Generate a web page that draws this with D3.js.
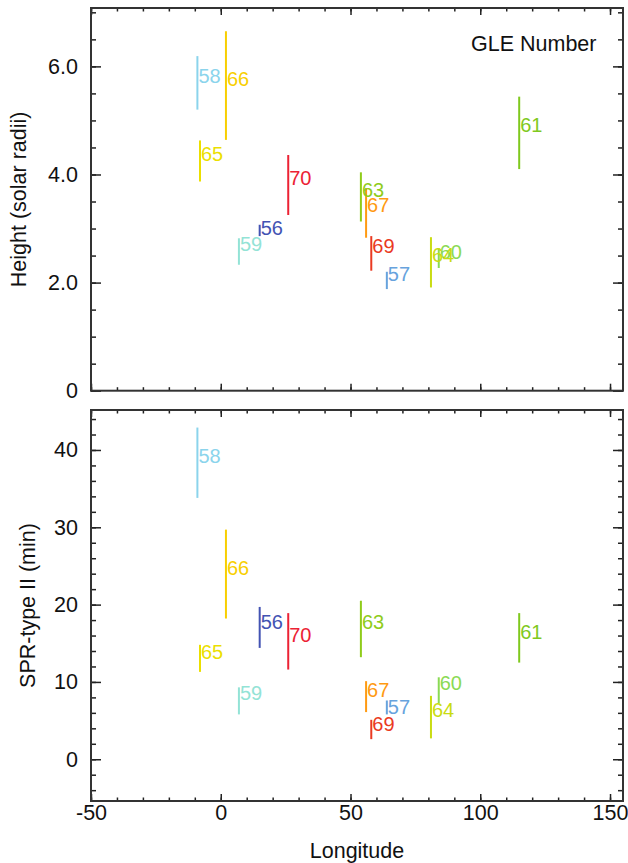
<!DOCTYPE html>
<html>
<head>
<meta charset="utf-8">
<script src="https://cdn.jsdelivr.net/npm/d3@7"></script>
<style>
  html, body { margin: 0; padding: 0; background: #fff; }
  svg { display: block; font-family: "Liberation Sans", Arial, Helvetica, sans-serif; }
</style>
</head>
<body>
<script>
// ---------- data ----------
const gle       = [56, 57, 58, 59, 60, 61, 63, 64, 65, 66, 67, 69, 70];
const longitude = [15, 64, -9, 7, 84, 115, 54, 81, -8, 2, 56, 58, 26];

const heightVal = [2.88, 2.03, 5.70, 2.59, 2.43, 4.78, 3.59, 2.38, 4.25, 5.64, 3.30, 2.54, 3.81];
const heightLo  = [2.86, 1.88, 5.20, 2.33, 2.27, 4.10, 3.13, 1.91, 3.87, 4.64, 2.83, 2.22, 3.25];
const heightHi  = [3.07, 2.20, 6.19, 2.82, 2.64, 5.44, 4.04, 2.84, 4.63, 6.65, 3.75, 2.86, 4.36];

const sprVal    = [16.9, 5.9, 38.3, 7.6, 9.0, 15.6, 16.8, 5.4, 13.0, 23.8, 8.0, 3.7, 15.2];
const sprLo     = [14.4, 5.8, 33.8, 5.8, 7.2, 12.5, 13.2, 2.7, 11.3, 18.2, 6.1, 2.6, 11.6];
const sprHi     = [19.7, 7.6, 42.9, 9.3, 10.6, 18.9, 20.5, 8.2, 14.8, 29.7, 10.1, 5.1, 18.9];

const xTicks      = [-50, 0, 50, 100, 150];
const heightTicks = [0, 2, 4, 6];
const sprTicks    = [0, 10, 20, 30, 40];

// styles (separate from data)
const colors = ["#4353b3", "#67a3dd", "#8bd4ec", "#93e3d6", "#8ada54", "#7fc91e",
                "#8fcc1a", "#c9dc12", "#ebdf00", "#f8cf00", "#ff9a12", "#ea3a22", "#ec2234"];

// ---------- layout ----------
const W = 628, H = 863;
const left = 91, right = 623;
const top1 = 8, bot1 = 390.7;
const top2 = 410, bot2 = 801;
const fs = 21.5;

const svg = d3.select("body").append("svg").attr("width", W).attr("height", H);

const x = d3.scaleLinear().domain([-50, 155]).range([left, right]);
const y1 = d3.scaleLinear().domain([0, 7.08]).range([bot1, top1]);
const y2 = d3.scaleLinear().domain([-5.4, 45.17]).range([bot2, top2]);

const xMinor = d3.range(-50, 156, 10);
const axisColor = "#222";

function drawPanel(y, yTop, yBot, yMajor, yMinor, fmt, showX, vals, los, his) {
  const g = svg.append("g");

  // data bars + labels
  const idx = d3.range(gle.length);
  g.selectAll("line.bar").data(idx).join("line")
    .attr("x1", i => x(longitude[i])).attr("x2", i => x(longitude[i]))
    .attr("y1", i => y(los[i])).attr("y2", i => y(his[i]))
    .attr("stroke", i => colors[i]).attr("stroke-width", 2);
  g.selectAll("text.lab").data(idx).join("text")
    .attr("x", i => x(longitude[i]) + 1)
    .attr("y", i => y(vals[i]))
    .attr("fill", i => colors[i])
    .attr("font-size", 20)
    .text(i => gle[i]);

  const styleAxis = sel => {
    sel.select(".domain").remove();
    sel.selectAll(".tick line").attr("stroke", axisColor).attr("stroke-width", 1.5);
    sel.selectAll(".tick text").attr("fill", "#111").attr("font-size", fs)
      .attr("font-family", "Liberation Sans, Arial, sans-serif");
  };

  // left axis
  g.append("g").attr("transform", `translate(${left},0)`)
    .call(d3.axisLeft(y).tickValues(yMinor).tickSize(-5).tickFormat(""))
    .call(styleAxis);
  g.append("g").attr("transform", `translate(${left},0)`)
    .call(d3.axisLeft(y).tickValues(yMajor).tickSize(-10).tickPadding(13).tickFormat(fmt))
    .call(styleAxis);
  // right axis
  g.append("g").attr("transform", `translate(${right},0)`)
    .call(d3.axisRight(y).tickValues(yMinor).tickSize(-5).tickFormat(""))
    .call(styleAxis);
  g.append("g").attr("transform", `translate(${right},0)`)
    .call(d3.axisRight(y).tickValues(yMajor).tickSize(-10).tickFormat(""))
    .call(styleAxis);
  // top axis
  g.append("g").attr("transform", `translate(0,${yTop})`)
    .call(d3.axisTop(x).tickValues(xMinor).tickSize(-3.5).tickFormat(""))
    .call(styleAxis);
  g.append("g").attr("transform", `translate(0,${yTop})`)
    .call(d3.axisTop(x).tickValues(xTicks).tickSize(-7).tickFormat(""))
    .call(styleAxis);
  // bottom axis
  g.append("g").attr("transform", `translate(0,${yBot})`)
    .call(d3.axisBottom(x).tickValues(xMinor).tickSize(-3.5).tickFormat(""))
    .call(styleAxis);
  g.append("g").attr("transform", `translate(0,${yBot})`)
    .call(d3.axisBottom(x).tickValues(xTicks).tickSize(-7).tickPadding(4)
      .tickFormat(showX ? (d => String(d)) : ""))
    .call(styleAxis);

  // frame
  g.append("rect").attr("x", left).attr("y", yTop)
    .attr("width", right - left).attr("height", yBot - yTop)
    .attr("fill", "none").attr("stroke", "#333").attr("stroke-width", 2);
}

drawPanel(y1, top1, bot1, heightTicks, d3.range(0, 7.01, 0.5),
  d => d === 0 ? "0" : d.toFixed(1), false, heightVal, heightLo, heightHi);
drawPanel(y2, top2, bot2, sprTicks, d3.range(-4, 45, 2),
  d => String(d), true, sprVal, sprLo, sprHi);

// titles
svg.append("text").attr("x", 471).attr("y", 51)
  .attr("font-size", fs).attr("fill", "#111").text("GLE Number");

svg.append("text").attr("x", (left + right) / 2).attr("y", 858)
  .attr("text-anchor", "middle").attr("font-size", fs).attr("fill", "#111")
  .text("Longitude");

svg.append("text")
  .attr("transform", `translate(26,${(top1 + bot1) / 2}) rotate(-90)`)
  .attr("text-anchor", "middle").attr("font-size", fs).attr("fill", "#111")
  .text("Height (solar radii)");

svg.append("text")
  .attr("transform", `translate(35,${(top2 + bot2) / 2}) rotate(-90)`)
  .attr("text-anchor", "middle").attr("font-size", fs).attr("fill", "#111")
  .text("SPR-type II (min)");
</script>
</body>
</html>
